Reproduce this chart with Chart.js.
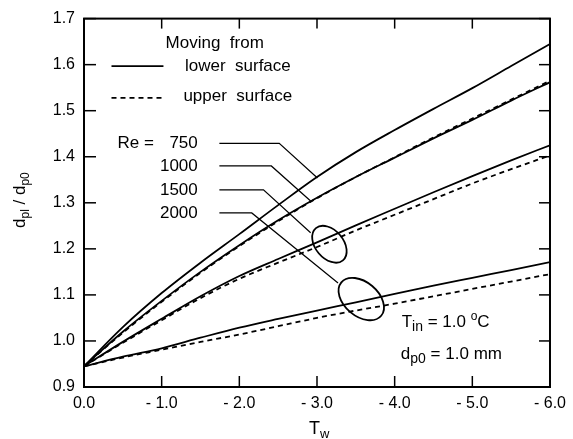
<!DOCTYPE html>
<html>
<head>
<meta charset="utf-8">
<script src="https://cdn.jsdelivr.net/npm/chart.js@4.4.1/dist/chart.umd.min.js"></script>
<style>
  body { margin: 0; background: #fff; }
  #wrap { width: 573px; height: 439px; }
</style>
</head>
<body>
<div id="wrap"><canvas id="myChart" width="573" height="439"></canvas></div>
<script>
const ctx = document.querySelector('#myChart');

// wall temperature T_w (x axis)
const tw = [0, -0.5, -1, -1.5, -2, -2.5, -3, -3.5, -4, -4.5, -5, -5.5, -6]

// d_pl / d_p0, lower = moving from lower surface (solid), upper = from upper surface (dashed)
const re750Lower  = [0.945, 1.030, 1.104, 1.170, 1.232, 1.295, 1.356, 1.410, 1.458, 1.504, 1.549, 1.597, 1.645]
const re1000Lower = [0.945, 1.020, 1.087, 1.150, 1.208, 1.262, 1.311, 1.356, 1.398, 1.440, 1.480, 1.522, 1.562]
const re1000Upper = [0.945, 1.018, 1.085, 1.148, 1.206, 1.260, 1.310, 1.356, 1.399, 1.442, 1.483, 1.524, 1.565]
const re1500Lower = [0.945, 0.998, 1.048, 1.097, 1.141, 1.178, 1.214, 1.251, 1.287, 1.323, 1.358, 1.392, 1.425]
const re1500Upper = [0.945, 0.996, 1.045, 1.093, 1.135, 1.170, 1.204, 1.240, 1.274, 1.308, 1.342, 1.373, 1.403]
const re2000Lower = [0.945, 0.966, 0.984, 1.007, 1.029, 1.048, 1.066, 1.084, 1.102, 1.120, 1.137, 1.154, 1.171]
const re2000Upper = [0.945, 0.964, 0.981, 0.998, 1.014, 1.032, 1.050, 1.066, 1.081, 1.097, 1.113, 1.129, 1.145]

const reLabels = ['750', '1000', '1500', '2000']
const xTicks = [0, -1, -2, -3, -4, -5, -6]
const yTicks = [0.9, 1.0, 1.1, 1.2, 1.3, 1.4, 1.5, 1.6, 1.7]

const FONT = "'Liberation Sans', Arial, Helvetica, sans-serif"
const DASH = [5, 4]

function series(label, values, dashed) {
  return {
    label: label,
    data: tw.map((t, i) => ({ x: t, y: values[i] })),
    borderColor: '#000',
    borderWidth: 1.8,
    borderDash: dashed ? DASH : [],
    pointRadius: 0,
    fill: false,
    cubicInterpolationMode: 'monotone'
  }
}

// text with sub/superscript pieces: [text, size, dy]
function runs(c, parts, x, y) {
  parts.forEach(p => {
    c.font = p[1] + 'px ' + FONT
    c.fillText(p[0], x, y + p[2])
    x += c.measureText(p[0]).width
  })
}

function seg(c, x1, y1, x2, y2) {
  c.beginPath(); c.moveTo(x1, y1); c.lineTo(x2, y2); c.stroke()
}

const annotations = {
  id: 'annotations',
  afterDraw(chart) {
    const c = chart.ctx
    const a = chart.chartArea
    const px = v => chart.scales.x.getPixelForValue(v)
    const py = v => chart.scales.y.getPixelForValue(v)
    c.save()
    c.strokeStyle = '#000'
    c.fillStyle = '#000'

    // frame
    c.lineWidth = 2
    c.strokeRect(a.left, a.top, a.right - a.left, a.bottom - a.top)

    // inward ticks on all sides
    c.lineWidth = 1.5
    xTicks.forEach(t => {
      const X = px(t)
      seg(c, X, a.bottom, X, a.bottom - 11)
      seg(c, X, a.top, X, a.top + 10)
    })
    yTicks.forEach(v => {
      const Y = py(v)
      seg(c, a.left, Y, a.left + 12, Y)
      seg(c, a.right, Y, a.right - 11, Y)
    })

    // axis titles
    c.textBaseline = 'alphabetic'
    c.textAlign = 'left'
    runs(c, [['T', 18, 0], ['w', 13, 4]], 309, 434)

    c.save()
    c.translate(25, 228)
    c.rotate(-Math.PI / 2)
    runs(c, [['d', 17, 0], ['pl', 12, 4], [' / d', 17, 0], ['p0', 12, 4]], 0, 0)
    c.restore()

    // legend block
    c.textBaseline = 'middle'
    c.font = '17px ' + FONT
    c.fillText('Moving  from', px(-1.05), py(1.646))
    c.lineWidth = 1.8
    seg(c, px(-0.354), py(1.597), px(-1.023), py(1.597))
    c.fillText('lower  surface', px(-1.30), py(1.597))
    c.setLineDash(DASH)
    seg(c, px(-0.354), py(1.528), px(-1.023), py(1.528))
    c.setLineDash([])
    c.fillText('upper  surface', px(-1.28), py(1.532))

    // Re labels and leaders
    const labY = [1.429, 1.380, 1.328, 1.278]
    const bendX = [-2.514, -2.412, -2.311, -2.16]
    const endPt = [[-3.006, 1.354], [-2.918, 1.304], [-2.918, 1.235], [-3.271, 1.126]]
    c.textAlign = 'right'
    c.fillText('Re =', px(-0.90), py(labY[0]))
    c.lineWidth = 1.2
    reLabels.forEach((r, i) => {
      c.fillText(r, px(-1.465), py(labY[i]))
      c.beginPath()
      c.moveTo(px(-1.743), py(labY[i]))
      c.lineTo(px(bendX[i]), py(labY[i]))
      c.lineTo(px(endPt[i][0]), py(endPt[i][1]))
      c.stroke()
    })

    // ellipses grouping the pairs
    c.lineWidth = 1.8
    c.beginPath()
    c.ellipse(px(-3.16), py(1.210), 21, 14, 50 * Math.PI / 180, 0, 2 * Math.PI)
    c.stroke()
    c.beginPath()
    c.ellipse(px(-3.57), py(1.091), 26, 17, 40 * Math.PI / 180, 0, 2 * Math.PI)
    c.stroke()

    // conditions
    c.textAlign = 'left'
    c.textBaseline = 'alphabetic'
    runs(c, [['T', 17, 0], ['in', 14, 4], [' = 1.0 ', 17, 0], ['o', 12, -7], ['C', 17, 0]], px(-4.09), py(1.044) + 6)
    runs(c, [['d', 17, 0], ['p0', 14, 4], [' = 1.0 mm', 17, 0]], px(-4.08), py(0.973) + 6)

    c.restore()
  }
}

const data = {
  datasets: [
    series('Re 750 lower', re750Lower, false),
    series('Re 1000 lower', re1000Lower, false),
    series('Re 1000 upper', re1000Upper, true),
    series('Re 1500 lower', re1500Lower, false),
    series('Re 1500 upper', re1500Upper, true),
    series('Re 2000 lower', re2000Lower, false),
    series('Re 2000 upper', re2000Upper, true)
  ]
}

const config = {
  type: 'line',
  data: data,
  options: {
    responsive: false,
    animation: false,
    layout: { padding: { top: 15, right: 14, left: 0, bottom: 0 } },
    plugins: {
      legend: { display: false },
      tooltip: { enabled: false }
    },
    scales: {
      x: {
        type: 'linear',
        reverse: true,
        min: -6,
        max: 0,
        grid: { display: false, drawTicks: false },
        border: { display: false },
        afterFit: s => { s.height = 52 },
        ticks: {
          stepSize: 1,
          padding: 7,
          color: '#000',
          font: { family: FONT, size: 16 },
          callback: v => v === 0 ? '0.0' : '- ' + (-v).toFixed(1)
        }
      },
      y: {
        min: 0.9,
        max: 1.7,
        grid: { display: false, drawTicks: false },
        border: { display: false },
        afterFit: s => { s.width = 84 },
        ticks: {
          stepSize: 0.1,
          padding: 9,
          color: '#000',
          font: { family: FONT, size: 16 },
          callback: v => v.toFixed(1)
        }
      }
    }
  },
  plugins: [annotations]
}

const myChart = new Chart(ctx, config)
</script>
</body>
</html>
